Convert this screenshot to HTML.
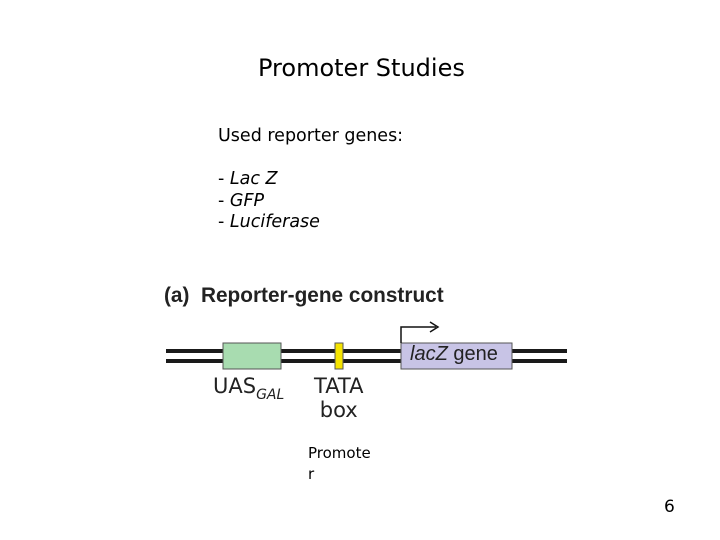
<!DOCTYPE html>
<html><head><style>
body{margin:0;width:720px;height:540px;background:#fff;position:relative;font-family:"DejaVu Sans","Liberation Sans",sans-serif;overflow:hidden}
.t{position:absolute;white-space:nowrap;color:#000}
</style></head><body>
<div class="t" style="left:258px;top:54px;font-size:24px">Promoter Studies</div>
<div class="t" style="left:218px;top:126px;font-size:17.5px;line-height:21.5px">Used reporter genes:<br><br>- <i>Lac Z</i><br>- <i>GFP</i><br>- <i>Luciferase</i></div>
<div class="t" style="left:164px;top:284px;font-size:20.8px;font-weight:bold;font-family:'Liberation Sans',sans-serif;color:#222">(a)&nbsp; Reporter-gene construct</div>
<svg width="720" height="540" style="position:absolute;left:0;top:0">
<rect x="166" y="349" width="401" height="4" fill="#1a1a1a"/>
<rect x="166" y="359" width="401" height="4" fill="#1a1a1a"/>
<rect x="223" y="343" width="58" height="26" fill="#a8dcb0" stroke="#555" stroke-width="1"/>
<rect x="335" y="343" width="8" height="26" fill="#f5e400" stroke="#555" stroke-width="1"/>
<rect x="401" y="343" width="111" height="26" fill="#c8c4e6" stroke="#555" stroke-width="1"/>
<path d="M401 343 V327 H436" fill="none" stroke="#111" stroke-width="1.5"/>
<path d="M430 322 L438 327 L430 332" fill="none" stroke="#111" stroke-width="1.5"/>
</svg>
<div class="t" style="left:410px;top:343px;font-size:20px;font-family:'Liberation Sans',sans-serif;color:#222"><i>lacZ</i> gene</div>
<div class="t" style="left:213px;top:374px;font-size:21px;color:#222">UAS<span style="font-size:14px;font-style:italic;position:relative;top:6px">GAL</span></div>
<div class="t" style="left:314px;top:374px;font-size:21px;color:#222;text-align:center;line-height:24px">TATA<br>box</div>
<div class="t" style="left:308px;top:443px;font-size:15px;line-height:21px">Promote<br>r</div>
<div class="t" style="left:664px;top:497px;font-size:17px">6</div>
</body></html>
